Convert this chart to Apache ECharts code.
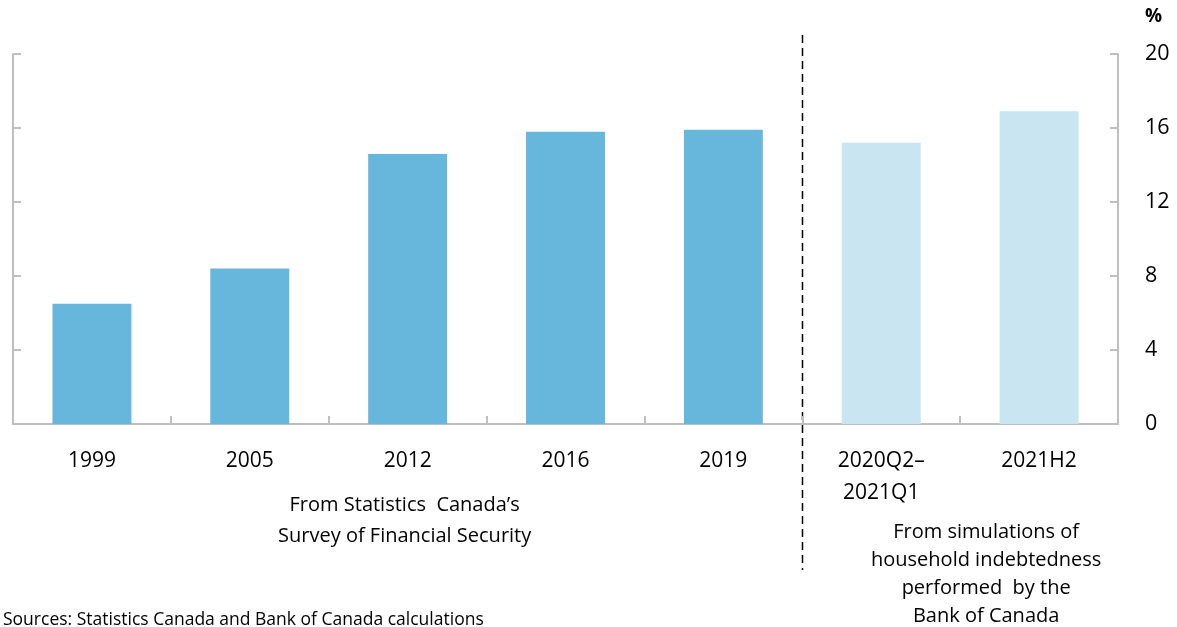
<!DOCTYPE html>
<html>
<head>
<meta charset="utf-8">
<script src="https://cdn.jsdelivr.net/npm/echarts@6/dist/echarts.min.js"></script>
<style>
html,body{margin:0;padding:0;background:#fff;}
#chart{width:1177px;height:627px;}
</style>
</head>
<body>
<div id="chart"></div>
<script>
const categories = ['1999', '2005', '2012', '2016', '2019', '2020Q2–\n2021Q1', '2021H2'];
const values = [6.5, 8.4, 14.6, 15.8, 15.9, 15.2, 16.9];
const sourceType = ['survey', 'survey', 'survey', 'survey', 'survey', 'simulation', 'simulation'];
const yTicks = [0, 4, 8, 12, 16, 20];

const FONT = '"Open Sans", "Noto Sans", sans-serif';
const AXIS_GRAY = '#bfbfbf';
const colorFor = { survey: '#67b6dc', simulation: '#c8e5f1' };

const chart = echarts.init(document.getElementById('chart'), null, { renderer: 'canvas' });

const option = {
  animation: false,
  backgroundColor: '#ffffff',
  grid: { left: 13, right: 59, top: 54, bottom: 203, containLabel: false },
  xAxis: {
    type: 'category',
    data: categories,
    axisLine: { show: true, lineStyle: { color: AXIS_GRAY, width: 2 } },
    axisTick: { show: true, inside: true, length: 8, alignWithLabel: false, lineStyle: { color: AXIS_GRAY, width: 2 } },
    axisLabel: { color: '#000', fontFamily: FONT, fontSize: 21, lineHeight: 32, margin: 21, interval: 0 }
  },
  yAxis: [
    {
      type: 'value', position: 'left', min: yTicks[0], max: yTicks[yTicks.length - 1], interval: 4,
      axisLine: { show: true, lineStyle: { color: AXIS_GRAY, width: 2 } },
      axisTick: { show: true, inside: true, length: 8, lineStyle: { color: AXIS_GRAY, width: 2 } },
      axisLabel: { show: false },
      splitLine: { show: false }
    },
    {
      type: 'value', position: 'right', min: yTicks[0], max: yTicks[yTicks.length - 1], interval: 4,
      axisLine: { show: true, lineStyle: { color: AXIS_GRAY, width: 2 } },
      axisTick: { show: true, inside: true, length: 8, lineStyle: { color: AXIS_GRAY, width: 2 } },
      axisLabel: { show: true, color: '#000', fontFamily: FONT, fontSize: 21.5, margin: 27 },
      splitLine: { show: false }
    }
  ],
  series: [{
    type: 'bar',
    yAxisIndex: 0,
    barWidth: '50%',
    data: values.map((v, i) => ({ value: v, itemStyle: { color: colorFor[sourceType[i]] } }))
  }]
};
chart.setOption(option);

// boundary between survey and simulation categories
const firstSim = sourceType.indexOf('simulation');
const xLeft = chart.convertToPixel({ xAxisIndex: 0 }, categories[firstSim - 1]);
const xRight = chart.convertToPixel({ xAxisIndex: 0 }, categories[firstSim]);
const xDiv = Math.round((xLeft + xRight) / 2) + 0.5;
const surveyCenter = chart.convertToPixel({ xAxisIndex: 0 }, categories[2]) - 3;
const simCenter = (xRight + chart.convertToPixel({ xAxisIndex: 0 }, categories[categories.length - 1])) / 2 + 26;

chart.setOption({
  graphic: [
    { type: 'text', left: 1145, top: 7, style: { text: '%', fontFamily: FONT, fontSize: 19, fontWeight: 'bold', fill: '#000' } },
    { type: 'text', left: 3, top: 611, style: { text: 'Sources: Statistics Canada and Bank of Canada calculations', fontFamily: FONT, fontSize: 17.5, fill: '#000' } },
    { type: 'line', shape: { x1: xDiv, y1: 35, x2: xDiv, y2: 570 }, style: { stroke: '#000', lineWidth: 1.5, lineDash: [8, 5] } },
    { type: 'text', x: surveyCenter, y: 490, style: { text: 'From Statistics  Canada’s\nSurvey of Financial Security', fontFamily: FONT, fontSize: 20, lineHeight: 31, fill: '#000', align: 'center', verticalAlign: 'top' } },
    { type: 'text', x: simCenter, y: 518, style: { text: 'From simulations of\nhousehold indebtedness\nperformed  by the\nBank of Canada', fontFamily: FONT, fontSize: 20, lineHeight: 28, fill: '#000', align: 'center', verticalAlign: 'top' } }
  ]
});
</script>
</body>
</html>
